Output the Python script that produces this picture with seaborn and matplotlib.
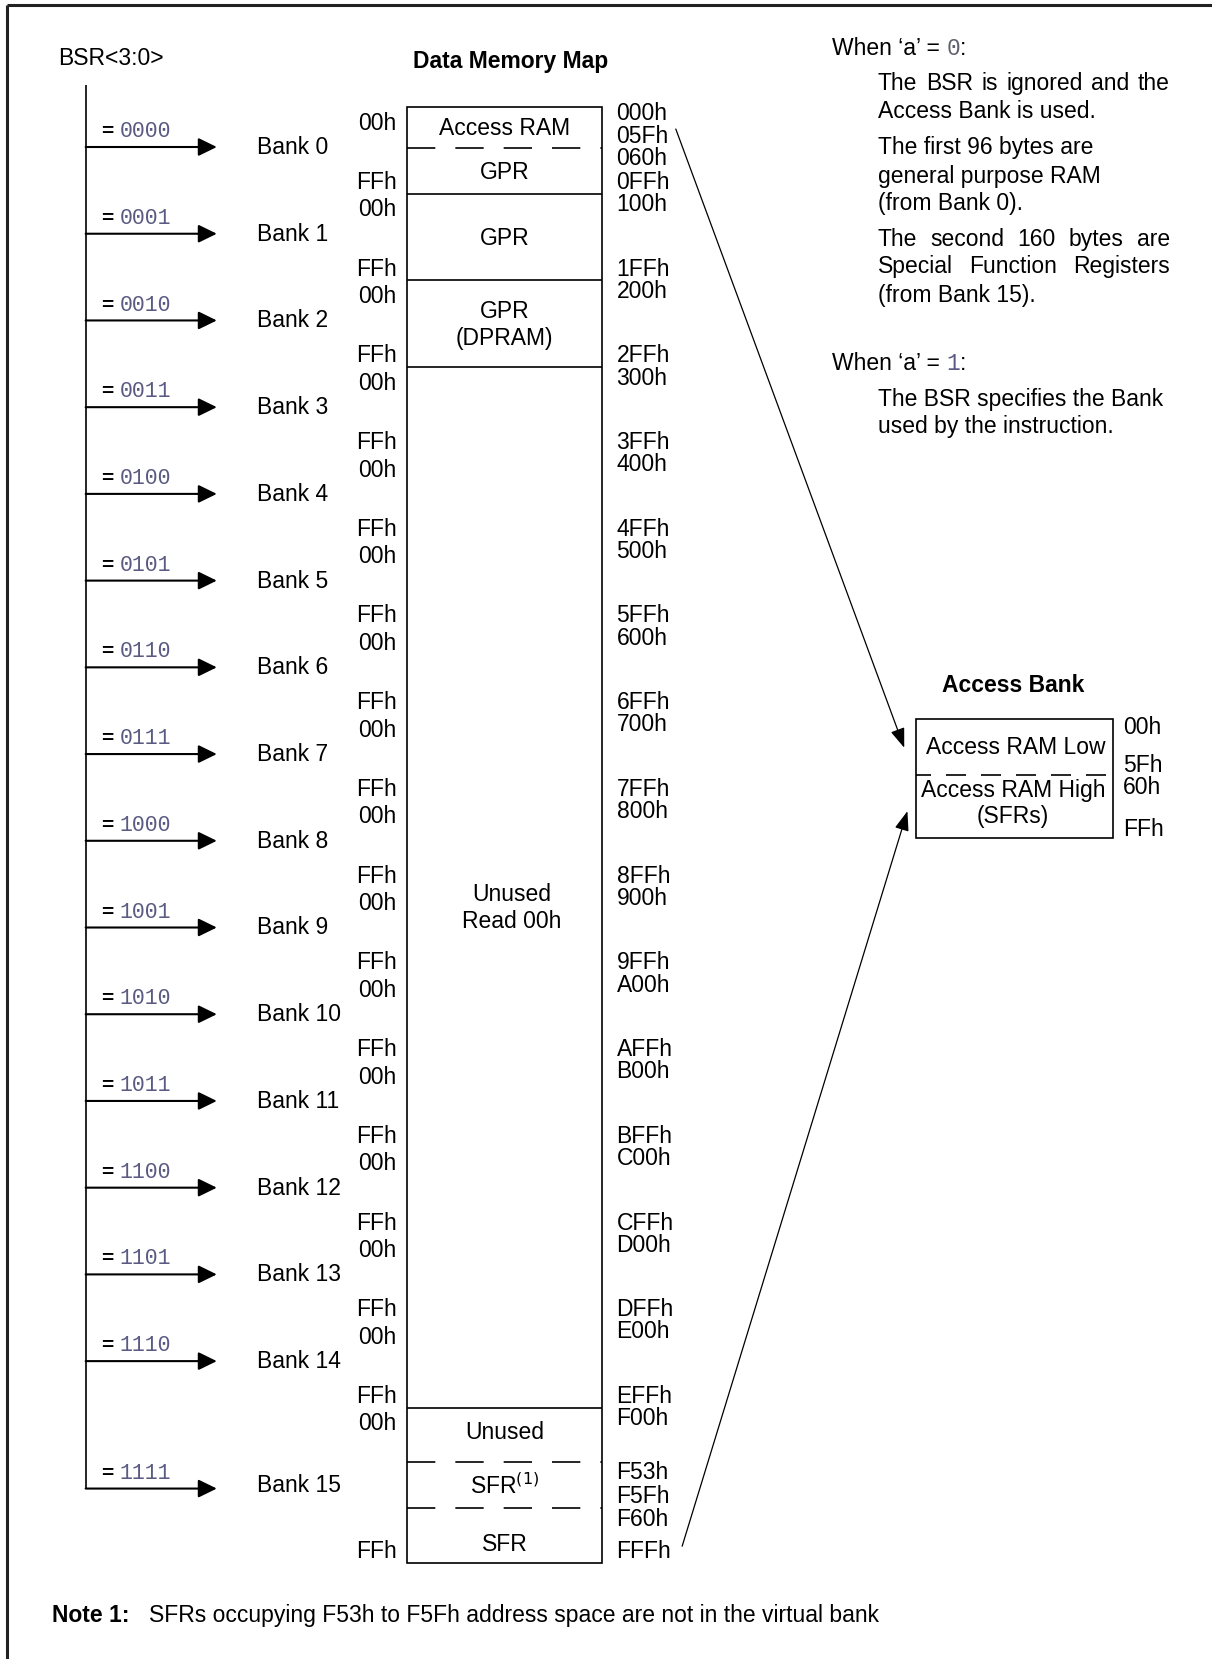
import matplotlib
matplotlib.use("Agg")
import matplotlib.pyplot as plt
import seaborn as sns
import numpy as np
from matplotlib.patches import Rectangle

# ---------------- data ----------------
BANK_LABELS = ["Bank 0", "Bank 1", "Bank 2", "Bank 3", "Bank 4", "Bank 5", "Bank 6", "Bank 7",
               "Bank 8", "Bank 9", "Bank 10", "Bank 11", "Bank 12", "Bank 13", "Bank 14", "Bank 15"]
BSR_CODES = ["0000", "0001", "0010", "0011", "0100", "0101", "0110", "0111",
             "1000", "1001", "1010", "1011", "1100", "1101", "1110", "1111"]
BANK_OFFSET_LABELS = ["00h", "FFh"]
REGION_NAMES = ["Access RAM", "GPR", "GPR", "GPR\n(DPRAM)", "Unused\nRead 00h", "Unused", "SFR$^{(1)}$", "SFR"]
REGION_START = [0x000, 0x060, 0x100, 0x200, 0x300, 0xF00, 0xF53, 0xF60]
REGION_END = [0x05F, 0x0FF, 0x1FF, 0x2FF, 0xEFF, 0xF52, 0xF5F, 0xFFF]
REGION_DASHED_TOP = [False, True, False, False, False, False, True, True]
RIGHT_ADDRS = [0x000, 0x05F, 0x060, 0x0FF, 0x100, 0x1FF, 0x200, 0x2FF, 0x300, 0x3FF, 0x400, 0x4FF,
               0x500, 0x5FF, 0x600, 0x6FF, 0x700, 0x7FF, 0x800, 0x8FF, 0x900, 0x9FF, 0xA00, 0xAFF,
               0xB00, 0xBFF, 0xC00, 0xCFF, 0xD00, 0xDFF, 0xE00, 0xEFF, 0xF00, 0xF53, 0xF5F, 0xF60, 0xFFF]
ACCESS_NAMES = ["Access RAM Low", "Access RAM High\n(SFRs)"]
ACCESS_ADDRS = ["00h", "5Fh", "60h", "FFh"]
NOTE_TEXT = "SFRs occupying F53h to F5Fh address space are not in the virtual bank"

# ---------------- layout (pixels) ----------------
W, H = 1212, 1659
S = 1212 / 1146.0
MAP_L, MAP_R = 385 * S, 569 * S
MAP_TOP = 101 * S
ROW = 82 * S
LAST_ROW = 147 * S
DIV_FRAC = {0x060: 0.47, 0xF53: 0.347, 0xF60: 0.646}
FS = 16.5
FONT = "Liberation Sans"
MONO = "Liberation Mono"
CODE_COLOR = "#5a5a82"
TDY = 1.5

sns.set_theme(style="white")
plt.rcParams["font.family"] = [FONT, "DejaVu Sans"]
plt.rcParams["lines.solid_capstyle"] = "butt"

fig = plt.figure(figsize=(W / 100, H / 100), dpi=100)
ax = fig.add_axes([0, 0, 1, 1])
ax.set_xlim(0, W)
ax.set_ylim(H, 0)
ax.axis("off")
fig.canvas.draw()
R = fig.canvas.get_renderer()


def bank_top(b):
    return MAP_TOP + b * ROW


def bank_h(b):
    return LAST_ROW if b == 15 else ROW


def boundary_y(addr):
    """y of the top edge of address addr"""
    if addr >= 0x1000:
        return bank_top(15) + LAST_ROW
    b, off = addr >> 8, addr & 0xFF
    if off == 0:
        return bank_top(b)
    return bank_top(b) + DIV_FRAC.get(addr, off / 256.0) * bank_h(b)


def txt(x, y, s, **kw):
    kw.setdefault("fontsize", FS)
    kw.setdefault("va", "center")
    kw.setdefault("color", "black")
    return ax.text(x, y + TDY, s, **kw)


def width(s, **kw):
    kw.setdefault("fontsize", FS)
    t = ax.text(0, 0, s, **kw)
    w = t.get_window_extent(renderer=R).width
    t.remove()
    return w


SPACE = width("x x") - width("xx")


def runs(x, y, pieces):
    for s, kw, gap in pieces:
        t = txt(x, y, s, ha="left", **kw)
        x += t.get_window_extent(renderer=R).width + gap
    return x


def justified(x0, x1, y, line):
    words = line.split()
    ws = [width(w) for w in words]
    gap = (x1 - x0 - sum(ws)) / (len(words) - 1)
    x = x0
    for w, wd in zip(words, ws):
        txt(x, y, w, ha="left")
        x += wd + gap


# ---------------- frame ----------------
ax.plot([7, 7], [5, H], color="#222222", lw=2.2)
ax.plot([7, W], [5, 5], color="#222222", lw=2.2)

# ---------------- titles ----------------
txt(55 * S, 54 * S, "BSR<3:0>", ha="left")
txt(483 * S, 57 * S, "Data Memory Map", ha="center", fontweight="bold")

# ---------------- BSR selector ----------------
centers = [bank_top(b) + bank_h(b) / 2 for b in range(16)]
arrow_y = [c + (3 if b == 15 else -3) * S for b, c in enumerate(centers)]
ax.plot([81 * S, 81 * S], [80 * S, arrow_y[-1]], color="black", lw=1.2)
for b, (lab, code) in enumerate(zip(BANK_LABELS, BSR_CODES)):
    y = arrow_y[b]
    ax.annotate("", xy=(205 * S, y), xytext=(81 * S, y),
                arrowprops=dict(arrowstyle="-|>,head_length=0.45,head_width=0.22", lw=1.5,
                                color="black", mutation_scale=25, shrinkA=0, shrinkB=0))
    runs(96 * S, y - 16 * S, [("=", dict(fontweight="bold", fontsize=15), SPACE * 0.9),
                              (code, dict(family=MONO, color=CODE_COLOR, fontsize=15.5), 0)])
    txt(243 * S, centers[b] + (-1 if b == 15 else -4) * S, lab, ha="left")

# ---------------- memory map ----------------
ax.add_patch(Rectangle((MAP_L, MAP_TOP), MAP_R - MAP_L, boundary_y(0x1000) - MAP_TOP,
                       fill=False, lw=1.2, edgecolor="black"))
for name, a0, a1, dashed in zip(REGION_NAMES, REGION_START, REGION_END, REGION_DASHED_TOP):
    y0, y1 = boundary_y(a0), boundary_y(a1 + 1)
    if a0 > 0:
        ls = (0, (17, 12)) if dashed else "-"
        ax.plot([MAP_L, MAP_R], [y0, y0], color="black", lw=1.2, ls=ls)
    xc = (MAP_L + MAP_R) / 2
    ym = (y0 + y1) / 2
    if name.startswith("Unused\n"):
        xc += 7 * S
        ym += 18 * S
    if name == "SFR":
        ym += 7 * S
    if name == "Unused":
        ym -= 3 * S
    txt(xc, ym, name, ha="center", linespacing=1.25)

# left per-bank offsets
for b in range(16):
    txt(375 * S, bank_top(b) + 14 * S, BANK_OFFSET_LABELS[0], ha="right")
    txt(375 * S, bank_top(b) + bank_h(b) - 12 * S, BANK_OFFSET_LABELS[1], ha="right")

# right absolute addresses
starts = set(REGION_START) | {b << 8 for b in range(16)}
for a in RIGHT_ADDRS:
    if a in starts:
        y = boundary_y(a) + 9 * S
        if a == 0:
            y -= 4 * S
    else:
        y = boundary_y(a + 1) - 12 * S
    txt(583 * S, y, f"{a:03X}h", ha="left")

# ---------------- explanatory text ----------------
XL, XR = 830 * S, 1106 * S
runs(787 * S, 44 * S, [("When \u2018a\u2019 =", {}, SPACE),
                       ("0", dict(family=MONO, color="#606070"), 0), (":", {}, 0)])
justified(XL, XR, 78 * S, "The BSR is ignored and the")
txt(XL, 104 * S, "Access Bank is used.", ha="left")
txt(XL, 138 * S, "The first 96 bytes are", ha="left")
txt(XL, 165 * S, "general purpose RAM", ha="left")
txt(XL, 191 * S, "(from Bank 0).", ha="left")
justified(XL, XR, 225 * S, "The second 160 bytes are")
justified(XL, XR, 251 * S, "Special Function Registers")
txt(XL, 278 * S, "(from Bank 15).", ha="left")
runs(787 * S, 342 * S, [("When \u2018a\u2019 =", {}, SPACE),
                        ("1", dict(family=MONO, color=CODE_COLOR), 0), (":", {}, 0)])
txt(XL, 376 * S, "The BSR specifies the Bank", ha="left")
txt(XL, 402 * S, "used by the instruction.", ha="left")

# ---------------- access bank ----------------
AL, AR, AT, AB = 866 * S, 1052 * S, 680 * S, 792 * S
ADIV = 733 * S
txt(958 * S, 647 * S, "Access Bank", ha="center", fontweight="bold")
ax.add_patch(Rectangle((AL, AT), AR - AL, AB - AT, fill=False, lw=1.2, edgecolor="black"))
ax.plot([AL, AR], [ADIV, ADIV], color="black", lw=1.2, ls=(3, (12, 9)))
txt(960 * S, 705 * S, ACCESS_NAMES[0], ha="center")
txt(958 * S, 758 * S, ACCESS_NAMES[1], ha="center", linespacing=1.15)
for lab, yy in zip(ACCESS_ADDRS, [686, 722, 743, 783]):
    txt(1062 * S, yy * S, lab, ha="left")

# diagonal arrows
for (x0, y0), (x1, y1) in [((639, 122), (855, 707)), ((645, 1462), (858, 767))]:
    ax.annotate("", xy=(x1 * S, y1 * S), xytext=(x0 * S, y0 * S),
                arrowprops=dict(arrowstyle="-|>,head_length=0.6,head_width=0.22", lw=0.9,
                                color="black", mutation_scale=20, shrinkA=0, shrinkB=0))

# ---------------- note ----------------
txt(49 * S, 1526 * S, "Note 1:", ha="left", fontweight="bold")
txt(141 * S, 1526 * S, NOTE_TEXT, ha="left")

fig.savefig("out.png", dpi=100, facecolor="white")
